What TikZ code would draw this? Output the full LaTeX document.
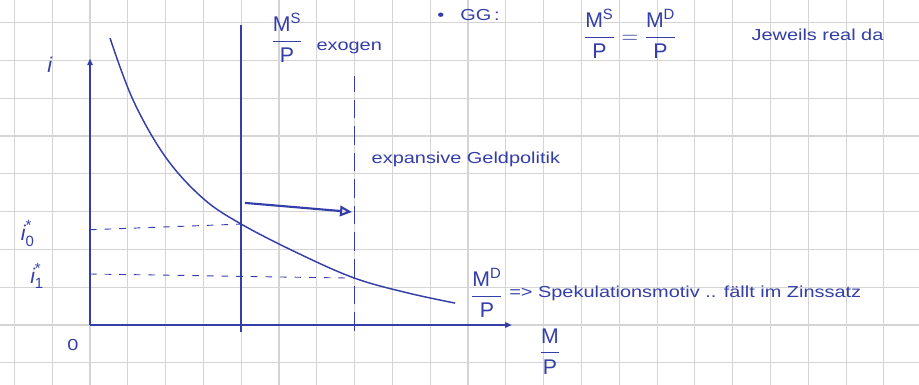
\documentclass[tikz,border=0pt]{standalone}
\usepackage{amsmath}
\usepackage{fontspec}
\setmainfont{Liberation Sans}
\newfontfamily\hand[FakeStretch=1.25]{Liberation Sans}
\usepackage{tikz}
\usepackage{xcolor}
\usetikzlibrary{arrows.meta, positioning}
\definecolor{Ink}{RGB}{52, 62, 168}
\definecolor{PaperGrid}{RGB}{212, 212, 212}

\begin{document}
\begin{tikzpicture}[
    ink/.style={draw=Ink, line width=1.1pt},
    guide/.style={draw=Ink, line width=0.7pt, dash pattern=on 5pt off 6pt},
    label/.style={text=Ink, inner sep=1pt, font=\hand\fontsize{12}{14}\selectfont},
    biglabel/.style={text=Ink, inner sep=1pt, font=\fontsize{16}{18}\selectfont}
]

% Paper with grid
\useasboundingbox (-2.381,-1.561) rectangle (21.93,8.598);
\clip (-2.381,-1.561) rectangle (21.93,8.598);
\fill[white] (-2.381,-1.561) rectangle (21.93,8.598);
\draw[PaperGrid, line width=0.8pt] (-3,-2) grid (22,9);

% Axes
\coordinate (O) at (0,0);
\coordinate (ytop) at (0,7.05);
\coordinate (xend) at (11.16,0);
\draw[ink, line width=1.3pt, -{Triangle[open, length=5pt, width=4pt]}] (O) -- (ytop);
\draw[ink, line width=1.3pt, -{Triangle[length=5pt, width=4pt]}] (O) -- (xend);

% Money supply, before and after
\coordinate (ms0b) at (4,-0.19);
\coordinate (ms0t) at (4,7.94);
\coordinate (ms1b) at (7,-0.15);
\coordinate (ms1t) at (7,6.6);
\draw[ink] (ms0b) -- (ms0t);
\draw[ink, line width=0.9pt, dash pattern=on 14pt off 6pt] (ms1b) -- (ms1t);

% Money demand
\draw[ink] plot[smooth, tension=0.6] coordinates {(0.53,7.59) (1.14,5.95) (2,4.44) (2.99,3.35) (4,2.67) (5.5,1.9) (7,1.24) (8.4,0.85) (9.66,0.58)};

% Equilibria
\coordinate (e0) at (4,2.67);
\coordinate (e1) at (7,1.24);
\coordinate (i0) at (0,2.52);
\coordinate (i1) at (0,1.35);
\draw[guide] (i0) -- (e0);
\draw[guide] (i1) -- (e1);

% Shift
\coordinate (sh0) at (4.1,3.23);
\coordinate (sh1) at (6.93,2.99);
\draw[ink, line width=1.6pt, -{Triangle[open, length=9pt, width=8pt]}] (sh0) -- (sh1);

% Labels
\node[biglabel] (ilab) at (-1.06,6.88) {\textit{i}};
\node[biglabel] (i0lab) at (-1.65,2.42) {$\textit{i}^{\text{*}}_{\text{0}}$};
\node[biglabel] (i1lab) at (-1.4,1.3) {$\textit{i}^{\text{*}}_{\text{1}}$};
\node[label] (zero) at (-0.45,-0.53) {0};
\node[biglabel] (msfrac) at (5.21,7.6) {$\dfrac{\mathrm{M}^{\mathrm{S}}}{\mathrm{P}}$};
\node[label, anchor=west] (exo) at (5.95,7.33) {exogen};
\node[label, anchor=west] (gg) at (9.15,8.2) {\textbullet\quad GG\,:};
\node[biglabel] (eq) at (14.29,7.7) {$\dfrac{\mathrm{M}^{\mathrm{S}}}{\mathrm{P}} = \dfrac{\mathrm{M}^{\mathrm{D}}}{\mathrm{P}}$};
\node[label, anchor=west] (real) at (17.46,7.67) {Jeweils real da};
\node[label, anchor=west] (expgp) at (7.41,4.37) {expansive Geldpolitik};
\node[biglabel] (mdfrac) at (10.5,0.85) {$\dfrac{\mathrm{M}^{\mathrm{D}}}{\mathrm{P}}$};
\node[label, anchor=west] (spek) at (11.05,0.85) {=> Spekulationsmotiv .. fällt im Zinssatz};
\node[biglabel] (mp) at (12.17,-0.7) {$\dfrac{\mathrm{M}}{\mathrm{P}}$};

\end{tikzpicture}
\end{document}
